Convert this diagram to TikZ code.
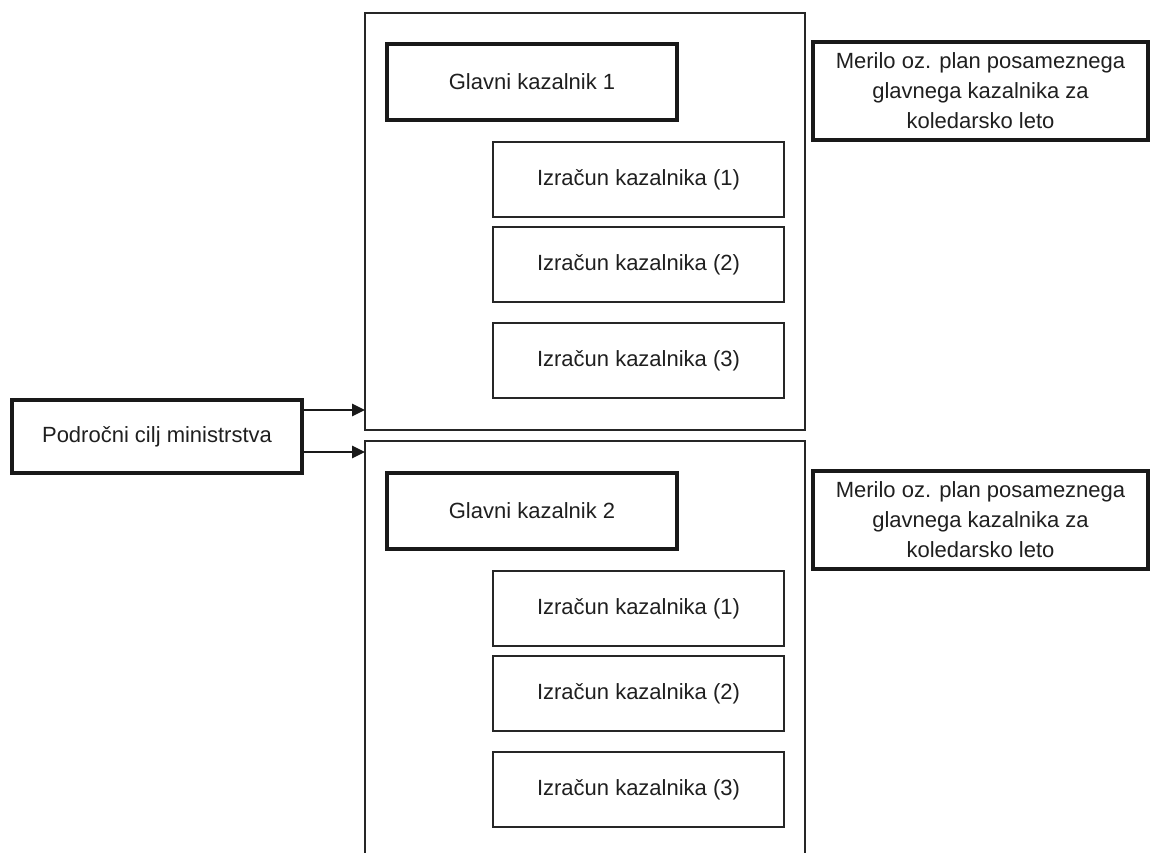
\documentclass[tikz,border=0pt]{standalone}
\usepackage{fontspec}
\setmainfont{Liberation Sans}
\usetikzlibrary{arrows.meta}
\begin{document}
\begin{tikzpicture}[x=1pt,y=-1pt,
  every node/.style={font=\fontsize{22}{30}\selectfont, text=black!88, inner sep=0pt, align=center},
  thinbox/.style={draw=black!85, line width=1.3pt},
  thickbox/.style={draw=black!90, line width=4pt},
  arr/.style={draw=black!90, line width=2.6pt, -{Triangle[length=13pt,width=12pt]}}]
\useasboundingbox (0,0) rectangle (1152,853);
\clip (0,0) rectangle (1152,853);
% left box
\node[thickbox, minimum width=290pt, minimum height=73pt] (cilj) at (157,436.5) {Področni cilj ministrstva};
% big box 1
\node[thinbox, minimum width=440pt, minimum height=417pt] (big1) at (585,221.5) {};
% big box 2 (open at bottom)
\coordinate (b2bl) at (365,870);
\coordinate (b2tl) at (365,441);
\coordinate (b2tr) at (805,441);
\coordinate (b2br) at (805,870);
\draw[thinbox] (b2bl) -- (b2tl) -- (b2tr) -- (b2br);
% arrows
\coordinate (a1) at (365,410);
\coordinate (a2) at (365,452);
\draw[arr] (cilj.east |- a1) -- (a1);
\draw[arr] (cilj.east |- a2) -- (a2);
% group 1
\node[thickbox, minimum width=290pt, minimum height=76pt] (g1) at (532,82) {Glavni kazalnik 1};
\node[thinbox, minimum width=291pt, minimum height=75pt] (i11) at (638.5,179.5) {Izračun kazalnika (1)};
\node[thinbox, minimum width=291pt, minimum height=75pt] (i12) at (638.5,264.5) {Izračun kazalnika (2)};
\node[thinbox, minimum width=291pt, minimum height=75pt] (i13) at (638.5,360.5) {Izračun kazalnika (3)};
\node[thickbox, minimum width=335pt, minimum height=98pt] (m1) at (980.5,91) {Merilo oz. plan posameznega\\glavnega kazalnika za\\koledarsko leto};
% group 2
\node[thickbox, minimum width=290pt, minimum height=76pt] (g2) at (532,511) {Glavni kazalnik 2};
\node[thinbox, minimum width=291pt, minimum height=75pt] (i21) at (638.5,608.5) {Izračun kazalnika (1)};
\node[thinbox, minimum width=291pt, minimum height=75pt] (i22) at (638.5,693.5) {Izračun kazalnika (2)};
\node[thinbox, minimum width=291pt, minimum height=75pt] (i23) at (638.5,789.5) {Izračun kazalnika (3)};
\node[thickbox, minimum width=335pt, minimum height=98pt] (m2) at (980.5,520) {Merilo oz. plan posameznega\\glavnega kazalnika za\\koledarsko leto};
\end{tikzpicture}
\end{document}
